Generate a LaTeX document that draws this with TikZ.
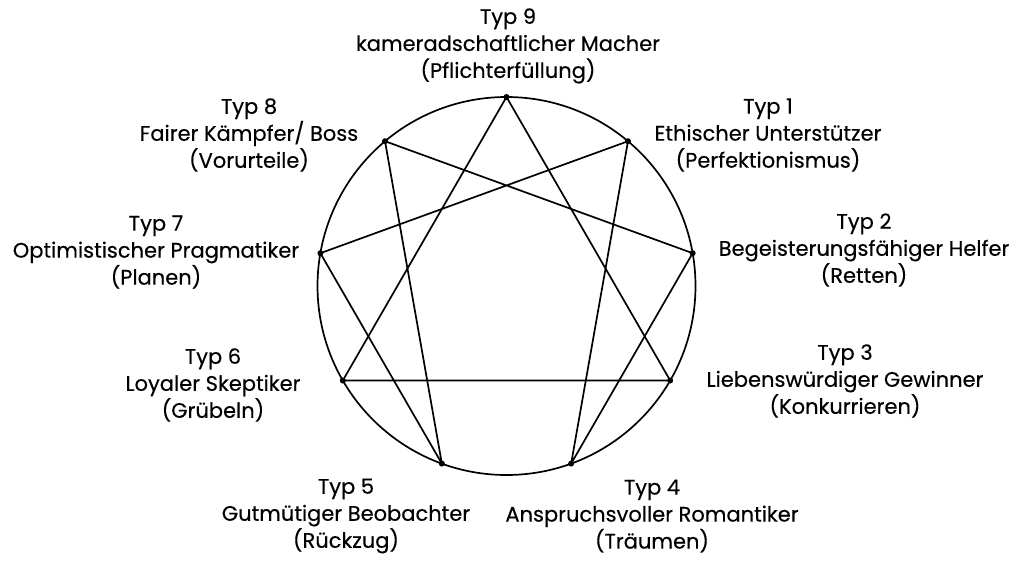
\documentclass[tikz,border=0pt]{standalone}
\usepackage{fontspec}
\setmainfont{Poppins}[FakeBold=0.3]
\begin{document}
\begin{tikzpicture}[x=1pt,y=-1pt,
  typtext/.style={align=center, font=\fontsize{21}{27}\selectfont, inner sep=0pt},
  ring/.style={line width=1.7pt, line join=round}]
  \useasboundingbox (0,0) rectangle (1025,563);

  % Kreis mit den neun Punkten
  \coordinate (m) at (506.5,286);
  \draw[ring] (m) circle (189);
  \foreach \i in {1,...,9}
    \coordinate (p\i) at ([shift={(m)}] 40*\i-90:189);

  % Dreieck 9-3-6
  \draw[ring] (p9) -- (p3) -- (p6) -- cycle;
  % Hexade 1-4-2-8-5-7
  \draw[ring] (p1) -- (p4) -- (p2) -- (p8) -- (p5) -- (p7) -- cycle;

  % Punkte
  \foreach \i in {1,...,9}
    \fill (p\i) circle (3);

  % Beschriftungen
  \node[typtext] (t9) at (508,46) {Typ 9\\kameradschaftlicher Macher\\(Pflichterfüllung)};
  \node[typtext] (t1) at (768,135) {Typ 1\\Ethischer Unterstützer\\(Perfektionismus)};
  \node[typtext] (t2) at (864,250) {Typ 2\\Begeisterungsfähiger Helfer\\(Retten)};
  \node[typtext] (t3) at (845,381) {Typ 3\\Liebenswürdiger Gewinner\\(Konkurrieren)};
  \node[typtext] (t4) at (652,516) {Typ 4\\Anspruchsvoller Romantiker\\(Träumen)};
  \node[typtext] (t5) at (346,516) {Typ 5\\Gutmütiger Beobachter\\(Rückzug)};
  \node[typtext] (t6) at (213,385) {Typ 6\\Loyaler Skeptiker\\(Grübeln)};
  \node[typtext] (t7) at (156,252) {Typ 7\\Optimistischer Pragmatiker\\(Planen)};
  \node[typtext] (t8) at (249,135) {Typ 8\\Fairer Kämpfer/ Boss\\(Vorurteile)};
\end{tikzpicture}
\end{document}
